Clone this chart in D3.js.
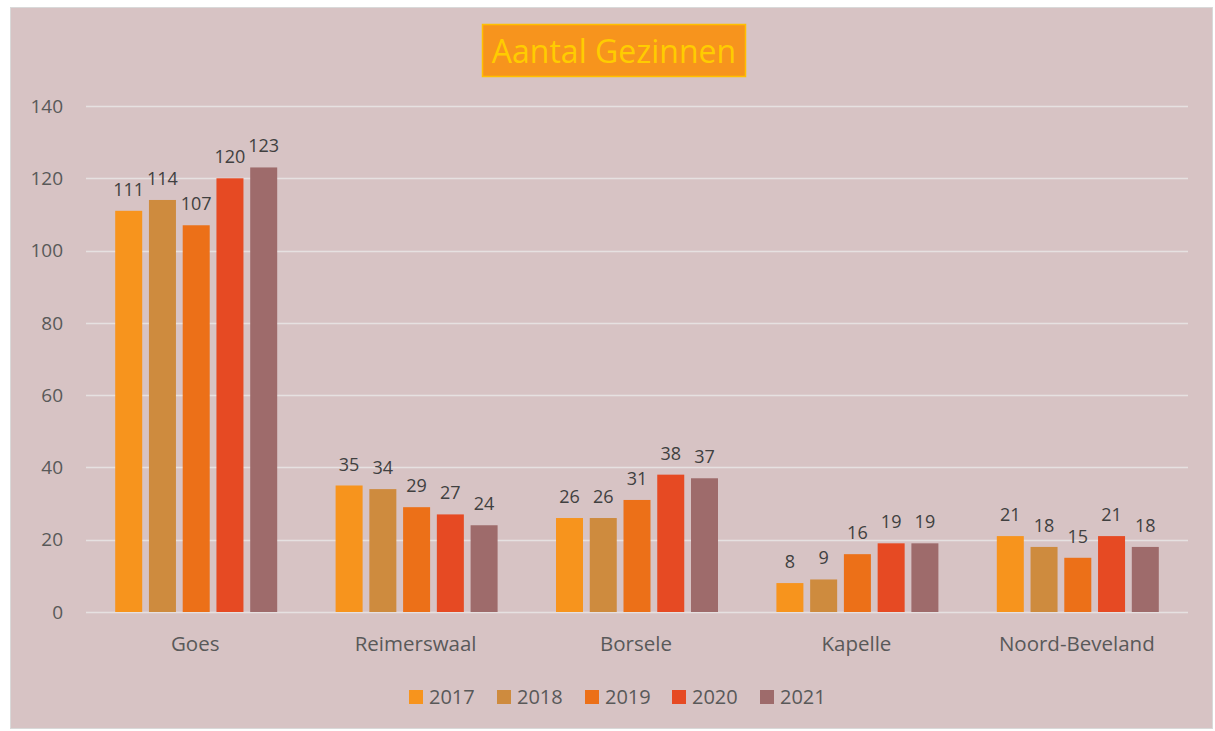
<!DOCTYPE html>
<html>
<head>
<meta charset="utf-8">
<script src="https://cdn.jsdelivr.net/npm/d3@7"></script>
<style>
  body { margin: 0; background: #fff; }
  svg { display: block; font-family: "Open Sans", "Liberation Sans", sans-serif; }
</style>
</head>
<body>
<div id="chart"></div>
<script>
const width = 1215,
      height = 731;

// data
const gemeenten = ['Goes', 'Reimerswaal', 'Borsele', 'Kapelle', 'Noord-Beveland'];
const jaren = ['2017', '2018', '2019', '2020', '2021'];
const v2017 = [111, 35, 26, 8, 21];
const v2018 = [114, 34, 26, 9, 18];
const v2019 = [107, 29, 31, 16, 15];
const v2020 = [120, 27, 38, 19, 21];
const v2021 = [123, 24, 37, 19, 18];
const yTicks = [0, 20, 40, 60, 80, 100, 120, 140];
const kleuren = ['#F7941D', '#CE8B3E', '#EC7018', '#E64A23', '#9E6B6B'];

const series = [v2017, v2018, v2019, v2020, v2021];

const margin = { left: 86, right: 27, top: 106, bottom: 119 };

const svg = d3.select('#chart').append('svg')
  .attr('width', width)
  .attr('height', height);

// chart background + border
svg.append('rect')
  .attr('x', 10.5).attr('y', 7.5)
  .attr('width', 1202).attr('height', 721)
  .attr('fill', '#D7C3C4')
  .attr('stroke', '#D9D9D9');

const x = d3.scaleBand()
  .domain(gemeenten)
  .range([margin.left, width - margin.right]);

const xInner = d3.scaleBand()
  .domain(jaren)
  .range([0, x.bandwidth() * 0.735])
  .paddingInner(0.2);

const y = d3.scaleLinear()
  .domain([0, 140])
  .range([height - margin.bottom, margin.top]);

// gridlines
svg.append('g')
  .selectAll('line')
  .data(yTicks)
  .join('line')
  .attr('x1', margin.left).attr('x2', width - margin.right)
  .attr('y1', d => Math.round(y(d)) + 0.5).attr('y2', d => Math.round(y(d)) + 0.5)
  .attr('stroke', '#E6E1E1')
  .attr('stroke-width', 1.3);

// y labels
svg.append('g')
  .selectAll('text')
  .data(yTicks)
  .join('text')
  .attr('x', 63)
  .attr('y', d => y(d))
  .attr('dy', '0.35em')
  .attr('text-anchor', 'end')
  .attr('fill', '#595959')
  .style('font-size', '19px')
  .text(d => d);

// bars
const groups = svg.append('g')
  .selectAll('g')
  .data(gemeenten)
  .join('g')
  .attr('transform', d => `translate(${x(d) + x.bandwidth() * 0.1325},0)`);

groups.selectAll('rect')
  .data((g, i) => series.map((s, j) => ({ jaar: jaren[j], v: s[i], c: kleuren[j] })))
  .join('rect')
  .attr('x', d => xInner(d.jaar))
  .attr('width', xInner.bandwidth())
  .attr('y', d => y(d.v))
  .attr('height', d => y(0) - y(d.v))
  .attr('fill', d => d.c);

groups.selectAll('text')
  .data((g, i) => series.map((s, j) => ({ jaar: jaren[j], v: s[i] })))
  .join('text')
  .attr('x', d => xInner(d.jaar) + xInner.bandwidth() / 2)
  .attr('y', d => y(d.v) - 15)
  .attr('text-anchor', 'middle')
  .attr('fill', '#404040')
  .style('font-size', '18px')
  .text(d => d.v);

// x labels
svg.append('g')
  .selectAll('text')
  .data(gemeenten)
  .join('text')
  .attr('x', d => x(d) + x.bandwidth() / 2 - 1)
  .attr('y', 651)
  .attr('text-anchor', 'middle')
  .attr('fill', '#595959')
  .style('font-size', '20.5px')
  .text(d => d);

// title
const title = svg.append('g');
title.append('rect')
  .attr('x', 482.5).attr('y', 24.5)
  .attr('width', 263).attr('height', 52)
  .attr('fill', '#F7941D')
  .attr('stroke', '#FFC000')
  .attr('stroke-width', 1.5);
title.append('text')
  .attr('x', 614).attr('y', 51)
  .attr('dy', '0.36em')
  .attr('text-anchor', 'middle')
  .attr('fill', '#FFCC00')
  .style('font-size', '32px')
  .text('Aantal Gezinnen');

// legend
const legendX = [409, 497, 585, 672, 760];
const legend = svg.append('g')
  .selectAll('g')
  .data(jaren)
  .join('g')
  .attr('transform', (d, i) => `translate(${legendX[i]},690)`);
legend.append('rect')
  .attr('width', 14).attr('height', 14)
  .attr('fill', (d, i) => kleuren[i]);
legend.append('text')
  .attr('x', 20).attr('y', 7)
  .attr('dy', '0.36em')
  .attr('fill', '#595959')
  .style('font-size', '20px')
  .text(d => d);
</script>
</body>
</html>
